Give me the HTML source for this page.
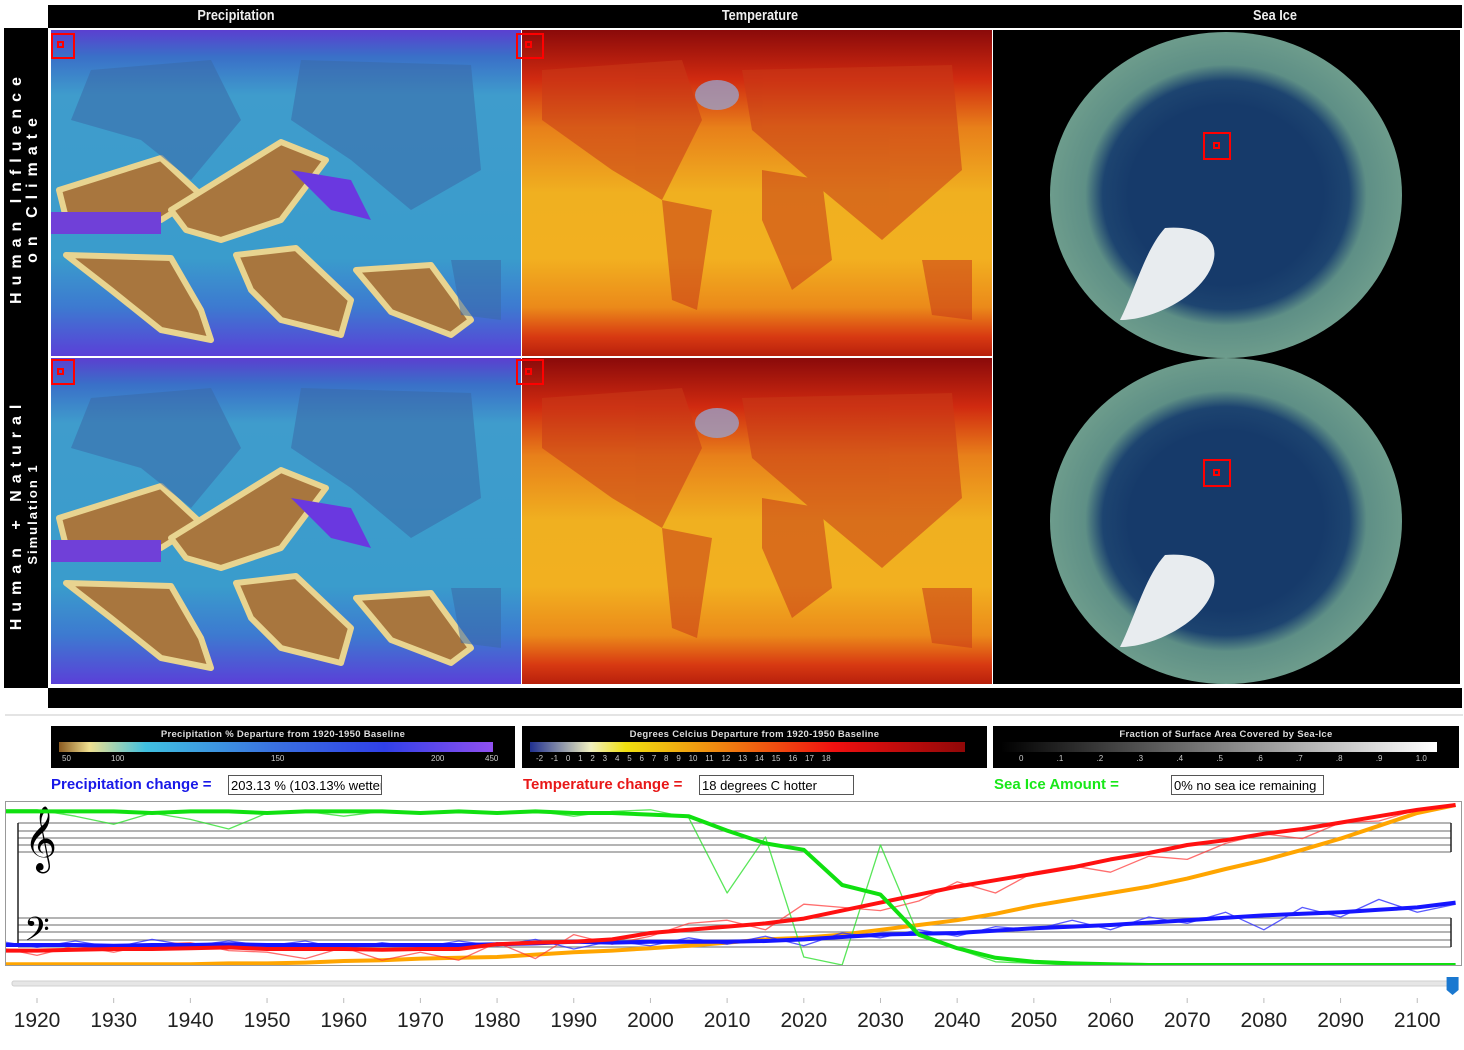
<!DOCTYPE html>
<html><head><meta charset="utf-8"><style>
body{margin:0;background:#fff;width:1464px;height:1050px;overflow:hidden;font-family:"Liberation Sans",sans-serif;position:relative}
.abs{position:absolute}
.hdr{color:#eee;font-size:15px;font-weight:bold;text-align:center;top:6px;line-height:20px;transform:scaleX(0.85)}
.lg{position:absolute;top:726px;height:42px;background:#000}
.lgt{color:#ddd;font-size:9.5px;font-weight:bold;text-align:center;margin-top:3px;letter-spacing:.3px}
.bar{position:absolute;left:8px;right:22px;top:16px;height:10px}
.tk{position:absolute;top:28px;color:#ccc;font-size:8px}
.lab{position:absolute;top:776px;font-size:15px;font-weight:bold}
.inp{position:absolute;top:775px;height:20px;border:1px solid #555;background:#fff;font-size:13px;line-height:20px;padding-left:2px;overflow:hidden;white-space:nowrap;box-sizing:border-box}
.yr{position:absolute;top:1009px;font-size:21px;color:#222;width:60px;text-align:center}
</style></head><body>
<div class="abs" style="left:48px;top:5px;width:1414px;height:23px;background:#000"></div>
<div class="abs hdr" style="left:136px;width:200px">Precipitation</div>
<div class="abs hdr" style="left:660px;width:200px">Temperature</div>
<div class="abs hdr" style="left:1175px;width:200px">Sea Ice</div>
<div class="abs" style="left:4px;top:28px;width:44px;height:660px;background:#000"></div>
<div class="abs" style="left:-154px;top:170px;width:360px;height:34px;transform:rotate(-90deg);color:#fff;font-weight:bold;text-align:center;line-height:16px">
<div style="font-size:16px;letter-spacing:7px">Human Influence</div><div style="font-size:16px;letter-spacing:7px">on Climate</div></div>
<div class="abs" style="left:-154px;top:497px;width:360px;height:34px;transform:rotate(-90deg);color:#fff;font-weight:bold;text-align:center;line-height:16px">
<div style="font-size:16px;letter-spacing:7px">Human + Natural</div><div style="font-size:13px;letter-spacing:2px">Simulation 1</div></div>
<div class="abs" style="left:48px;top:688px;width:1414px;height:20px;background:#000"></div>

<svg class="abs" style="left:0;top:0" width="1464" height="700">
<defs>
<linearGradient id="pg" x1="0" y1="0" x2="0" y2="1">
<stop offset="0" stop-color="#5b3fd0"/><stop offset=".08" stop-color="#3a6fc8"/><stop offset=".2" stop-color="#3f9ccc"/><stop offset=".7" stop-color="#3a9ccc"/><stop offset=".85" stop-color="#3d7ad0"/><stop offset="1" stop-color="#5a40d8"/></linearGradient>
<linearGradient id="tg" x1="0" y1="0" x2="0" y2="1">
<stop offset="0" stop-color="#8a0a0a"/><stop offset=".15" stop-color="#d02a10"/><stop offset=".3" stop-color="#e8801a"/><stop offset=".5" stop-color="#f0b020"/><stop offset=".7" stop-color="#f2b020"/><stop offset=".85" stop-color="#eb8a1a"/><stop offset=".94" stop-color="#d83a12"/><stop offset="1" stop-color="#b8200c"/></linearGradient>
<radialGradient id="ig" cx=".5" cy=".5" r=".5"><stop offset=".55" stop-color="#163a6a"/><stop offset=".7" stop-color="#1d4470"/><stop offset=".8" stop-color="#5e8f86"/><stop offset="1" stop-color="#6d9c8c"/></radialGradient>
<g id="precip">
<rect width="470" height="326" fill="url(#pg)"/>
<g fill="#a8763e" stroke="#e8d490" stroke-width="6" stroke-linejoin="round">
<polygon points="8,160 110,128 150,165 110,190 15,188"/>
<polygon points="120,180 230,112 275,130 230,190 170,210 135,200"/>
<polygon points="15,225 120,228 150,280 160,310 110,300 60,260"/>
<polygon points="185,225 245,218 300,270 290,305 230,290 200,260"/>
<polygon points="305,240 380,235 420,290 400,305 340,282"/>
</g>
<rect x="0" y="182" width="110" height="22" fill="#7040d8"/>
<polygon points="240,140 300,150 320,190 280,180" fill="#6a38e0"/>
<g fill="#3a6aa8" opacity=".55"><polygon points="40,40 160,30 190,90 140,150 90,110 20,90"/><polygon points="250,30 420,35 430,140 360,180 300,130 240,90"/><polygon points="400,230 450,230 450,290 410,285"/></g>
</g>
<g id="temp">
<rect width="470" height="326" fill="url(#tg)"/>
<g fill="#c83a18" opacity=".55"><polygon points="20,40 160,30 180,90 140,170 90,140 20,90"/><polygon points="220,40 430,35 440,140 360,210 300,160 230,100"/><polygon points="140,170 190,180 175,280 150,270"/><polygon points="240,140 300,150 310,230 270,260 240,190"/><polygon points="400,230 450,230 450,290 410,285"/></g>
<ellipse cx="195" cy="65" rx="22" ry="15" fill="#9aa0c8" opacity=".8"/>
</g>
</defs>
<use href="#precip" x="51" y="30"/>
<use href="#precip" x="51" y="358"/>
<use href="#temp" x="522" y="30"/>
<use href="#temp" x="522" y="358"/>
<rect x="993" y="30" width="467" height="654" fill="#000"/>
<ellipse cx="1226" cy="195" rx="176" ry="163" fill="url(#ig)"/>
<ellipse cx="1226" cy="521" rx="176" ry="163" fill="url(#ig)"/>
<path d="M1165,228 C1200,225 1225,240 1210,270 C1195,300 1150,320 1120,320 C1135,290 1145,250 1165,228Z" fill="#e8ecef"/>
<path d="M1165,555 C1200,552 1225,567 1210,597 C1195,627 1150,647 1120,647 C1135,617 1145,577 1165,555Z" fill="#e8ecef"/>
<g fill="none" stroke="#f00" stroke-width="2">
<rect x="52" y="34" width="22" height="24"/><rect x="58" y="42" width="5" height="5"/>
<rect x="517" y="34" width="26" height="24"/><rect x="526" y="42" width="5" height="5"/>
<rect x="52" y="360" width="22" height="24"/><rect x="58" y="369" width="5" height="5"/>
<rect x="517" y="360" width="26" height="24"/><rect x="526" y="369" width="5" height="5"/>
<rect x="1204" y="133" width="26" height="26"/><rect x="1214" y="143" width="5" height="5"/>
<rect x="1204" y="460" width="26" height="26"/><rect x="1214" y="470" width="5" height="5"/>
</g>
</svg>
<div class="abs" style="left:5px;top:714px;width:1458px;height:2px;background:#e4e4e4"></div>

<div class="lg" style="left:51px;width:464px">
<div class="lgt">Precipitation % Departure from 1920-1950 Baseline</div>
<div class="bar" style="background:linear-gradient(90deg,#8a5a20,#f0e090 7%,#40c0e0 20%,#3a70e0 50%,#3040e8 75%,#9050f0)"></div>
<div class="tk" style="left:11px">50</div><div class="tk" style="left:60px">100</div><div class="tk" style="left:220px">150</div><div class="tk" style="left:380px">200</div><div class="tk" style="left:434px">450</div>
</div>
<div class="lg" style="left:522px;width:465px">
<div class="lgt">Degrees Celcius Departure from 1920-1950 Baseline</div>
<div class="bar" style="background:linear-gradient(90deg,#203090,#f0f0c0 14%,#f0e010 22%,#f08010 45%,#f01010 70%,#900808)"></div>
<div class="tk" style="left:14px;word-spacing:5.6px;white-space:nowrap">-2 -1 0 1 2 3 4 5 6 7 8 9 10 11 12 13 14 15 16 17 18</div>
</div>
<div class="lg" style="left:993px;width:466px">
<div class="lgt">Fraction of Surface Area Covered by Sea-Ice</div>
<div class="bar" style="background:linear-gradient(90deg,#000,#fff)"></div>
<div class="tk" style="left:26px;word-spacing:31px;white-space:nowrap">0 .1 .2 .3 .4 .5 .6 .7 .8 .9 1.0</div>
</div>

<div class="lab" style="left:51px;color:#1818e8">Precipitation change =</div>
<div class="inp" style="left:228px;width:154px">203.13 % (103.13% wetter)</div>
<div class="lab" style="left:523px;color:#e81818">Temperature change =</div>
<div class="inp" style="left:699px;width:155px">18 degrees C hotter</div>
<div class="lab" style="left:994px;color:#18e818">Sea Ice Amount =</div>
<div class="inp" style="left:1171px;width:153px">0% no sea ice remaining</div>

<svg class="abs" id="chart" style="left:0;top:795px" width="1464" height="255"></svg>
<div id="years"></div>
<script>
const years=[1915,1920,1925,1930,1935,1940,1945,1950,1955,1960,1965,1970,1975,1980,1985,1990,1995,2000,2005,2010,2015,2020,2025,2030,2035,2040,2045,2050,2055,2060,2065,2070,2075,2080,2085,2090,2095,2100,2105];
const seaIceSmooth=[96,96,96,96,95,96,96,95,96,96,96,95,96,95,96,95,95,94,93,84,76,72,50,44,19,10.5,4.5,2,1,0.5,0,0,0,0,0,0,0,0,0];
const seaIceRaw=[97,97,93,88,95,91,85,95,96,93,96,95,96,95,96,93,96,97,92,45,80,5,0,75,18,10,2,1,0,0,0,0,0,0,0,0,0,0,0];
const tempSmooth=[9,9,9.5,10,10,10.5,11,10,10,10,9.5,10,10,13,14,14.5,16,20,22,24,26,29,34,39,44,49,53,57,61,66,70,75,78,82,85,89,93,97,100];
const tempRaw=[11,6,12,8,13,14,9,8,4,11,3,8,3,14,4,19,13,18,26,28,22,38,36,34,40,52,45,58,62,58,68,66,76,82,79,89,90,97,100];
const co2Curve=[0.5,0.5,0.5,0.5,0.5,0.5,1,1,1.5,2.5,3,4,4.5,5,6.5,8,9,10.5,12,14,16,17,19,22,25,28,32,37,41,45,49,54,60,65.5,72,79,87,95,100];
const precipSmooth=[12.5,12.5,12.5,12,12.5,12.5,13,12.5,12.5,12.5,12.5,12.5,12.5,13,13.5,14.5,14,14.5,14.5,14.5,15,16,17.5,19,19.5,20,21.5,23,24,25,26.5,28,29.5,31,32,33,34.5,36,39];
const precipRaw=[15,11,15,11,16,12,15,12,15,10,14,11,15,12,16,10,15,12,17,13,18,12,20,17,22,18,24,22,28,22,30,26,33,22,36,30,41,33,38];
const tickYears=[1920,1930,1940,1950,1960,1970,1980,1990,2000,2010,2020,2030,2040,2050,2060,2070,2080,2090,2100];
const sliderYear=2105;

const svg=document.getElementById('chart');const NS='http://www.w3.org/2000/svg';
const X=y=>37+(y-1920)*7.668;
const Y=v=>170-v*1.6;
function mk(t,a){const e=document.createElementNS(NS,t);for(const k in a)e.setAttribute(k,a[k]);svg.appendChild(e);return e;}
const frame=mk('rect',{x:5.5,y:6.5,width:1456,height:164,fill:'#fff',stroke:'#999'});


[28,36,43,50,57,123,130,137,145,152].forEach((yy,i)=>{const l=mk('line',{x1:18,x2:1451,y1:yy,y2:yy,stroke:'#888','stroke-width':1.3});

});
const sb=mk('line',{x1:18,x2:18,y1:28,y2:152,stroke:'#222','stroke-width':1.5});


[[1451,28,57],[1451,123,152]].forEach(a=>{const l=mk('line',{x1:a[0],x2:a[0],y1:a[1],y2:a[2],stroke:'#222','stroke-width':1.5});

});
const tc=mk('text',{x:24,y:62,'font-size':56,fill:'#000','font-family':'DejaVu Sans'});tc.textContent='𝄞';


const bc=mk('text',{x:24,y:152,'font-size':40,fill:'#000','font-family':'DejaVu Sans'});bc.textContent='𝄢';


const clip=mk('clipPath',{id:'cc'});const cr=document.createElementNS(NS,'rect');cr.setAttribute('x',6);cr.setAttribute('y',7);cr.setAttribute('width',1455);cr.setAttribute('height',163);clip.appendChild(cr);
function line(arr,col,w,name,op){const p=mk('polyline',{points:arr.map((v,i)=>X(years[i])+','+Y(v)).join(' '),fill:'none',stroke:col,'stroke-width':w,'stroke-linejoin':'round','clip-path':'url(#cc)',opacity:op||1});

}
line(co2Curve,'#ffa500',4,'co2-curve');
line(precipRaw,'#3030ff',1.3,'precipitation-raw-line',.8);
line(tempRaw,'#ff3030',1.3,'temperature-raw-line',.7);
line(seaIceRaw,'#30e030',1.3,'sea-ice-raw-line',.8);
line(precipSmooth,'#1515ff',4,'precipitation-smooth-line');
line(tempSmooth,'#ff1010',4,'temperature-smooth-line');
line(seaIceSmooth,'#10e010',4,'sea-ice-smooth-line');
const tr=mk('rect',{x:12,y:186,width:1443,height:5,rx:2,fill:'#e6e6e6',stroke:'#d0d0d0'});


const hx=X(sliderYear)-9;
const h=mk('path',{d:`M${hx},182 h12 v13 l-6,5 l-6,-5z`,fill:'#1a78d0'});


const yd=document.getElementById('years');
tickYears.forEach(y=>{const t=mk('line',{x1:X(y),x2:X(y),y1:203,y2:208,stroke:'#bbb'});


const d=document.createElement('div');d.className='yr';d.style.left=(X(y)-30)+'px';d.textContent=y;


yd.appendChild(d);});
</script>
</body></html>
